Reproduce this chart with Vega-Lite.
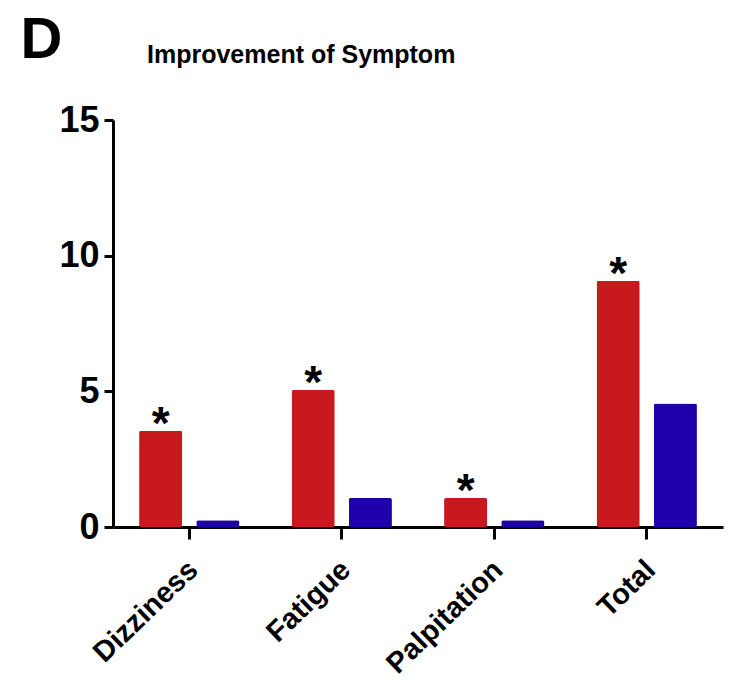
{
  "$schema": "https://vega.github.io/schema/vega-lite/v6.json",
  "width": 610,
  "height": 407,
  "autosize": {"type": "none"},
  "padding": {"left": 113, "top": 120, "right": 8, "bottom": 154},
  "background": "white",
  "config": {"view": {"stroke": null}, "font": "Liberation Sans"},
  "title": {
    "text": "Improvement of Symptom",
    "anchor": "start",
    "frame": "group",
    "dx": 34,
    "offset": -77,
    "baseline": "alphabetic",
    "font": "Liberation Sans",
    "fontSize": 25,
    "fontWeight": "bold",
    "color": "black"
  },
  "data": {
    "values": [
      {"symptom": "Dizziness", "group": "Treatment", "value": 3.55, "sig": "*"},
      {"symptom": "Dizziness", "group": "Control", "value": 0.25, "sig": ""},
      {"symptom": "Fatigue", "group": "Treatment", "value": 5.05, "sig": "*"},
      {"symptom": "Fatigue", "group": "Control", "value": 1.07, "sig": ""},
      {"symptom": "Palpitation", "group": "Treatment", "value": 1.07, "sig": "*"},
      {"symptom": "Palpitation", "group": "Control", "value": 0.25, "sig": ""},
      {"symptom": "Total", "group": "Treatment", "value": 9.08, "sig": "*"},
      {"symptom": "Total", "group": "Control", "value": 4.55, "sig": ""}
    ]
  },
  "encoding": {
    "x": {
      "field": "symptom",
      "type": "nominal",
      "sort": null,
      "scale": {"paddingInner": 0, "paddingOuter": 0},
      "axis": {
        "title": null,
        "domainColor": "black",
        "domainWidth": 3,
        "tickColor": "black",
        "tickWidth": 3,
        "tickSize": 12,
        "labelAngle": -44,
        "labelAlign": "right",
        "labelBaseline": "middle",
        "labelPadding": 26,
        "labelOffset": 4,
        "labelFontSize": 29,
        "labelFontWeight": "bold",
        "labelColor": "black",
        "labelFont": "Liberation Sans"
      }
    },
    "xOffset": {
      "field": "group",
      "sort": null,
      "scale": {"paddingInner": 0.2456, "paddingOuter": 0.456}
    },
    "y": {
      "field": "value",
      "type": "quantitative",
      "scale": {"domain": [0, 15], "nice": false},
      "axis": {
        "title": "D",
        "titleAngle": 0,
        "titleFontSize": 58,
        "titleFontWeight": "bold",
        "titleColor": "black",
        "titleX": -72,
        "titleY": -63,
        "titleAlign": "center",
        "titleBaseline": "alphabetic",
        "values": [0, 5, 10, 15],
        "grid": false,
        "domainColor": "black",
        "domainWidth": 3,
        "tickColor": "black",
        "tickWidth": 3,
        "tickSize": 9,
        "labelPadding": 5,
        "labelFontSize": 36,
        "labelFontWeight": "bold",
        "labelColor": "black",
        "labelFont": "Liberation Sans"
      }
    }
  },
  "layer": [
    {
      "mark": {"type": "bar", "cornerRadius": 2},
      "encoding": {
        "color": {
          "field": "group",
          "type": "nominal",
          "sort": null,
          "scale": {"domain": ["Treatment", "Control"], "range": ["#C8191E", "#1F00AA"]},
          "legend": null
        }
      }
    },
    {
      "transform": [{"filter": "datum.sig == '*'"}],
      "mark": {"type": "text", "fontSize": 46, "fontWeight": "bold", "baseline": "alphabetic", "dy": 8, "color": "black"},
      "encoding": {"text": {"field": "sig"}}
    }
  ]
}
